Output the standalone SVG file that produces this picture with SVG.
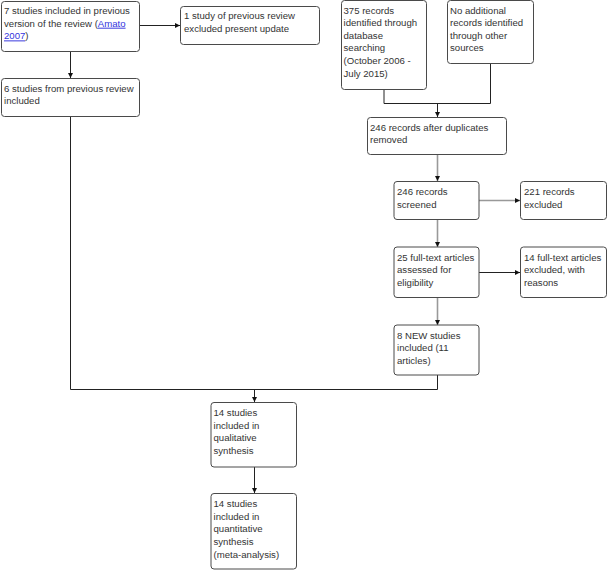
<svg xmlns="http://www.w3.org/2000/svg" width="608" height="570" viewBox="0 0 608 570">
<style>
.box{fill:#fff;stroke:#4a4a4a;stroke-width:1}
.t{font-family:"Liberation Sans",Arial,sans-serif;font-size:9.6px;fill:#333}
.lnk{fill:#3333dd;text-decoration:underline}
.c{fill:none;stroke:#222;stroke-width:1}
.g{fill:none;stroke:#999;stroke-width:1.6}
</style>
<defs>
<marker id="ah" viewBox="0 0 6 6" refX="6" refY="3" markerWidth="5" markerHeight="5" markerUnits="userSpaceOnUse" orient="auto">
<path d="M0,0 L6,3 L0,6 z" fill="#111"/>
</marker>
</defs>
<rect width="608" height="570" fill="#fff"/>
<g id="connectors">
<path class="c" d="M139.5,25.5 H180" marker-end="url(#ah)"/>
<path class="c" d="M70.5,51 V78" marker-end="url(#ah)"/>
<path class="c" d="M70.5,116 V389.5 H437.5"/>
<path class="c" d="M437.5,375 V389.5"/>
<path class="c" d="M254.5,389.5 V402" marker-end="url(#ah)"/>
<path class="c" d="M384,89 V103.5 H490.5 V63"/>
<path class="c" d="M437.5,103.5 V117" marker-end="url(#ah)"/>
<path class="g" d="M437.5,154 V181" marker-end="url(#ah)"/>
<path class="g" d="M479,200.5 H520" marker-end="url(#ah)"/>
<path class="g" d="M437.5,219 V247" marker-end="url(#ah)"/>
<path class="c" d="M479,272.5 H520" marker-end="url(#ah)"/>
<path class="g" d="M437.5,297 V325" marker-end="url(#ah)"/>
<path class="c" d="M254.5,467 V493" marker-end="url(#ah)"/>
</g>
<g id="n1"><rect class="box" x="1.5" y="1.5" width="138" height="50" rx="3"/>
<text class="t" x="4" y="14">7 studies included in previous</text>
<text class="t" x="4" y="26.7">version of the review (<tspan class="lnk">Amato</tspan></text>
<text class="t" x="4" y="39.4"><tspan class="lnk">2007</tspan>)</text></g>
<g id="n2"><rect class="box" x="180.5" y="6.5" width="139" height="38" rx="3"/>
<text class="t" x="184" y="19">1 study of previous review</text>
<text class="t" x="184" y="31.7">excluded present update</text></g>
<g id="n3"><rect class="box" x="1.5" y="78.5" width="138" height="38" rx="3"/>
<text class="t" x="4" y="91.5">6 studies from previous review</text>
<text class="t" x="4" y="104.2">included</text></g>
<g id="n4"><rect class="box" x="341.5" y="0.5" width="85" height="89" rx="3"/>
<text class="t" x="343.5" y="13.5">375 records</text>
<text class="t" x="343.5" y="26.1">identified through</text>
<text class="t" x="343.5" y="38.7">database</text>
<text class="t" x="343.5" y="51.3">searching</text>
<text class="t" x="343.5" y="63.9">(October 2006 -</text>
<text class="t" x="343.5" y="76.5">July 2015)</text></g>
<g id="n5"><rect class="box" x="447.5" y="0.5" width="86" height="63" rx="3"/>
<text class="t" x="450" y="13.5">No additional</text>
<text class="t" x="450" y="26.1">records identified</text>
<text class="t" x="450" y="38.7">through other</text>
<text class="t" x="450" y="51.3">sources</text></g>
<g id="n6"><rect class="box" x="367.5" y="117.5" width="139" height="37" rx="3"/>
<text class="t" x="370" y="130.5">246 records after duplicates</text>
<text class="t" x="370" y="143.2">removed</text></g>
<g id="n7"><rect class="box" x="394" y="181.5" width="85" height="38" rx="3"/>
<text class="t" x="397" y="195">246 records</text>
<text class="t" x="397" y="207.7">screened</text></g>
<g id="n8"><rect class="box" x="520.5" y="181.5" width="86" height="38" rx="3"/>
<text class="t" x="524" y="195">221 records</text>
<text class="t" x="524" y="207.7">excluded</text></g>
<g id="n9"><rect class="box" x="394" y="247" width="85" height="50.5" rx="3"/>
<text class="t" x="397" y="260.5">25 full-text articles</text>
<text class="t" x="397" y="273.2">assessed for</text>
<text class="t" x="397" y="285.9">eligibility</text></g>
<g id="n10"><rect class="box" x="520.5" y="247" width="86" height="50.5" rx="3"/>
<text class="t" x="524" y="260.5">14 full-text articles</text>
<text class="t" x="524" y="273.2">excluded, with</text>
<text class="t" x="524" y="285.9">reasons</text></g>
<g id="n11"><rect class="box" x="394" y="325" width="85" height="50" rx="3"/>
<text class="t" x="397" y="338.5">8 NEW studies</text>
<text class="t" x="397" y="351.2">included (11</text>
<text class="t" x="397" y="363.9">articles)</text></g>
<g id="n12"><rect class="box" x="211" y="402.5" width="85.5" height="64.5" rx="3"/>
<text class="t" x="213.5" y="416">14 studies</text>
<text class="t" x="213.5" y="428.7">included in</text>
<text class="t" x="213.5" y="441.4">qualitative</text>
<text class="t" x="213.5" y="454.1">synthesis</text></g>
<g id="n13"><rect class="box" x="211" y="493.5" width="85.5" height="75.5" rx="3"/>
<text class="t" x="213.5" y="507">14 studies</text>
<text class="t" x="213.5" y="519.7">included in</text>
<text class="t" x="213.5" y="532.4">quantitative</text>
<text class="t" x="213.5" y="545.1">synthesis</text>
<text class="t" x="213.5" y="557.8">(meta-analysis)</text></g>
</svg>
